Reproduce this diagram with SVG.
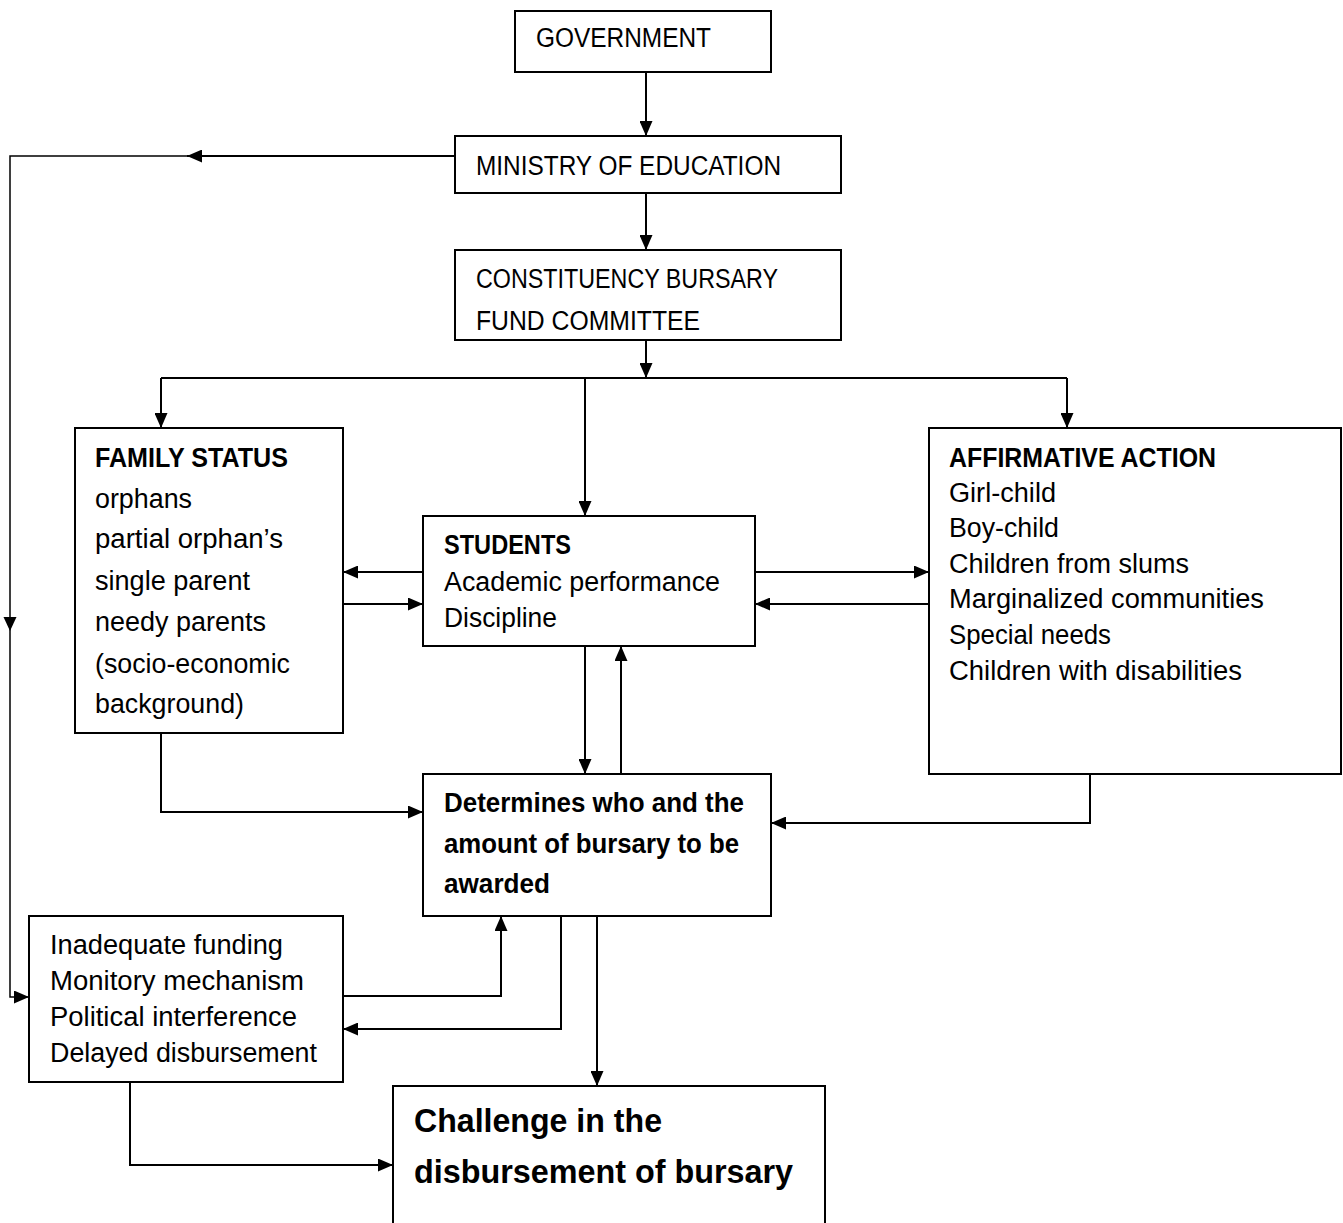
<svg xmlns="http://www.w3.org/2000/svg" width="1343" height="1223" viewBox="0 0 1343 1223">
<style>
.box{fill:#fff;stroke:#000;stroke-width:2}
.t{font-family:"Liberation Sans",Arial,sans-serif;font-size:27px;fill:#000}
.b{font-weight:bold}
.big{font-size:34px;font-weight:bold}
.c{fill:none;stroke:#000;stroke-width:2}
.thin{stroke-width:1.5}
</style>
<defs>
<marker id="ah" markerUnits="userSpaceOnUse" viewBox="0 0 15 13" markerWidth="15" markerHeight="13" refX="15" refY="6.5" orient="auto">
<path d="M0,0 L15,6.5 L0,13 z" fill="#000"/>
</marker>
</defs>
<g id="connectors">
<path class="c" d="M646,72 V136" marker-end="url(#ah)"/>
<path class="c" d="M646,193 V250" marker-end="url(#ah)"/>
<path class="c" d="M646,340 V378" marker-end="url(#ah)"/>
<path class="c" d="M161,378 H1067"/>
<path class="c" d="M161,378 V428" marker-end="url(#ah)"/>
<path class="c" d="M585,378 V516" marker-end="url(#ah)"/>
<path class="c" d="M1067,378 V428" marker-end="url(#ah)"/>
<path class="c" d="M423,572 H343" marker-end="url(#ah)"/>
<path class="c" d="M343,604 H423" marker-end="url(#ah)"/>
<path class="c" d="M755,572 H929" marker-end="url(#ah)"/>
<path class="c" d="M929,604 H755" marker-end="url(#ah)"/>
<path class="c" d="M585,646 V774" marker-end="url(#ah)"/>
<path class="c" d="M621,774 V646" marker-end="url(#ah)"/>
<path class="c" d="M161,733 V812 H423" marker-end="url(#ah)"/>
<path class="c" d="M1090,774 V823 H771" marker-end="url(#ah)"/>
<path class="c" d="M343,996 H501 V916" marker-end="url(#ah)"/>
<path class="c" d="M561,916 V1029 H343" marker-end="url(#ah)"/>
<path class="c" d="M597,916 V1086" marker-end="url(#ah)"/>
<path class="c" d="M130,1082 V1165 H393" marker-end="url(#ah)"/>
<path class="c" d="M455,156 H187" marker-end="url(#ah)"/>
<path class="c thin" d="M187,156 H10 V997 H29" marker-end="url(#ah)"/>
<polygon points="10,631 3.5,617 16.5,617" fill="#000"/>
</g>
<g id="government">
<rect class="box" x="515" y="11" width="256" height="61"/>
<text class="t" x="536" y="47" textLength="175" lengthAdjust="spacingAndGlyphs">GOVERNMENT</text>
</g>
<g id="ministry">
<rect class="box" x="455" y="136" width="386" height="57"/>
<text class="t" x="476" y="175" textLength="305" lengthAdjust="spacingAndGlyphs">MINISTRY OF EDUCATION</text>
</g>
<g id="cbf">
<rect class="box" x="455" y="250" width="386" height="90"/>
<text class="t" x="476" y="288" textLength="302" lengthAdjust="spacingAndGlyphs">CONSTITUENCY BURSARY</text>
<text class="t" x="476" y="330" textLength="224" lengthAdjust="spacingAndGlyphs">FUND COMMITTEE</text>
</g>
<g id="family">
<rect class="box" x="75" y="428" width="268" height="305"/>
<text class="t b" x="95" y="467" textLength="193" lengthAdjust="spacingAndGlyphs">FAMILY STATUS</text>
<text class="t" x="95" y="508" textLength="97" lengthAdjust="spacingAndGlyphs">orphans</text>
<text class="t" x="95" y="548" textLength="188" lengthAdjust="spacingAndGlyphs">partial orphan’s</text>
<text class="t" x="95" y="590" textLength="155" lengthAdjust="spacingAndGlyphs">single parent</text>
<text class="t" x="95" y="631" textLength="171" lengthAdjust="spacingAndGlyphs">needy parents</text>
<text class="t" x="95" y="673" textLength="195" lengthAdjust="spacingAndGlyphs">(socio-economic</text>
<text class="t" x="95" y="713" textLength="149" lengthAdjust="spacingAndGlyphs">background)</text>
</g>
<g id="students">
<rect class="box" x="423" y="516" width="332" height="130"/>
<text class="t b" x="444" y="554" textLength="127" lengthAdjust="spacingAndGlyphs">STUDENTS</text>
<text class="t" x="444" y="591" textLength="276" lengthAdjust="spacingAndGlyphs">Academic performance</text>
<text class="t" x="444" y="627" textLength="113" lengthAdjust="spacingAndGlyphs">Discipline</text>
</g>
<g id="affirmative">
<rect class="box" x="929" y="428" width="412" height="346"/>
<text class="t b" x="949" y="467" textLength="267" lengthAdjust="spacingAndGlyphs">AFFIRMATIVE ACTION</text>
<text class="t" x="949" y="502" textLength="107" lengthAdjust="spacingAndGlyphs">Girl-child</text>
<text class="t" x="949" y="537" textLength="110" lengthAdjust="spacingAndGlyphs">Boy-child</text>
<text class="t" x="949" y="573" textLength="240" lengthAdjust="spacingAndGlyphs">Children from slums</text>
<text class="t" x="949" y="608" textLength="315" lengthAdjust="spacingAndGlyphs">Marginalized communities</text>
<text class="t" x="949" y="644" textLength="162" lengthAdjust="spacingAndGlyphs">Special needs</text>
<text class="t" x="949" y="680" textLength="293" lengthAdjust="spacingAndGlyphs">Children with disabilities</text>
</g>
<g id="determines">
<rect class="box" x="423" y="774" width="348" height="142"/>
<text class="t b" x="444" y="812" textLength="300" lengthAdjust="spacingAndGlyphs">Determines who and the</text>
<text class="t b" x="444" y="853" textLength="295" lengthAdjust="spacingAndGlyphs">amount of bursary to be</text>
<text class="t b" x="444" y="893" textLength="106" lengthAdjust="spacingAndGlyphs">awarded</text>
</g>
<g id="challenges">
<rect class="box" x="29" y="916" width="314" height="166"/>
<text class="t" x="50" y="954" textLength="233" lengthAdjust="spacingAndGlyphs">Inadequate funding</text>
<text class="t" x="50" y="990" textLength="254" lengthAdjust="spacingAndGlyphs">Monitory mechanism</text>
<text class="t" x="50" y="1026" textLength="247" lengthAdjust="spacingAndGlyphs">Political interference</text>
<text class="t" x="50" y="1062" textLength="267" lengthAdjust="spacingAndGlyphs">Delayed disbursement</text>
</g>
<g id="challenge">
<rect class="box" x="393" y="1086" width="432" height="150"/>
<text class="t big" x="414" y="1132" textLength="248" lengthAdjust="spacingAndGlyphs">Challenge in the</text>
<text class="t big" x="414" y="1183" textLength="379" lengthAdjust="spacingAndGlyphs">disbursement of bursary</text>
</g>
</svg>
